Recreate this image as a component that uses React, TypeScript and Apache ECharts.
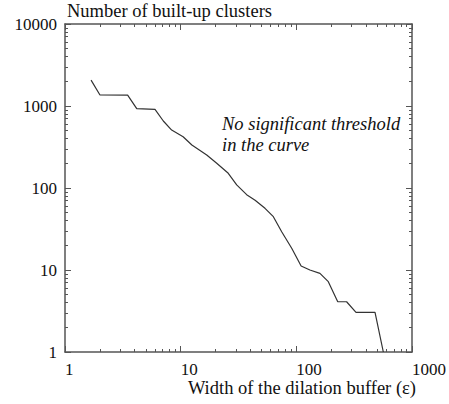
import React, { useEffect, useRef } from "react";
import * as echarts from "echarts";

const bufferWidth = [1.68, 2.0, 3.48, 4.17, 6.0, 7.08, 8.36, 10.5, 12.5, 16.8, 20.5, 25.8, 30.5, 37.2, 44, 53.6, 63.3, 74.7, 91.2, 110, 131, 160, 189, 228, 272, 328, 479, 565];
const clusterCount = [2070, 1370, 1360, 927, 912, 656, 509, 422, 334, 252, 200, 151, 109, 83, 71, 56.5, 44.7, 29.3, 18.4, 11.2, 10, 9.1, 7.2, 4.1, 4.1, 3.05, 3.05, 1];
const xTicks = [1, 10, 100, 1000];
const yTicks = [1, 10, 100, 1000, 10000];

const FONT = "Liberation Serif";
const AXIS_COLOR = "#555";

export default function App() {
  const ref = useRef<HTMLDivElement>(null);
  useEffect(() => {
    if (!ref.current) return;
    const chart = echarts.init(ref.current, undefined, { renderer: "svg" });
    const baseAxis = (extra: any) => ({
      type: "log",
      logBase: 10,
      axisLine: { show: true, lineStyle: { color: AXIS_COLOR, width: 1.5 } },
      axisTick: { show: true, inside: true, length: 6, lineStyle: { color: AXIS_COLOR, width: 1 } },
      minorTick: { show: true, splitNumber: 9, length: 3, lineStyle: { color: AXIS_COLOR, width: 1 } },
      splitLine: { show: false },
      minorSplitLine: { show: false },
      ...extra,
    });
    const labelStyle = {
      show: true,
      color: "#111",
      fontFamily: FONT,
      fontSize: 17,
      lineHeight: 16,
      formatter: (v: number) => String(Math.round(v)),
    };
    chart.setOption({
      animation: false,
      textStyle: { fontFamily: FONT },
      grid: { left: 65, right: 37, top: 24, bottom: 52, containLabel: false },
      xAxis: [
        baseAxis({
          min: xTicks[0],
          max: xTicks[xTicks.length - 1],
          position: "bottom",
          axisLabel: { ...labelStyle, margin: 9, align: "left" },
        }),
        baseAxis({
          min: xTicks[0],
          max: xTicks[xTicks.length - 1],
          position: "top",
          axisLabel: { show: false },
        }),
      ],
      yAxis: [
        baseAxis({
          min: yTicks[0],
          max: yTicks[yTicks.length - 1],
          position: "left",
          axisLabel: { ...labelStyle, margin: 8 },
        }),
        baseAxis({
          min: yTicks[0],
          max: yTicks[yTicks.length - 1],
          position: "right",
          axisLabel: { show: false },
        }),
      ],
      series: [
        {
          type: "line",
          data: bufferWidth.map((x, i) => [x, clusterCount[i]]),
          showSymbol: false,
          symbol: "none",
          lineStyle: { color: "#333", width: 1.2 },
          xAxisIndex: 0,
          yAxisIndex: 0,
          clip: true,
        },
      ],
      graphic: [
        {
          type: "text",
          left: 67,
          top: 1,
          style: { text: "Number of built-up clusters", fontFamily: FONT, fontSize: 18.5, fill: "#111" },
        },
        {
          type: "text",
          right: 33,
          top: 378,
          style: { text: "Width of the dilation buffer (ε)", fontFamily: FONT, fontSize: 18.5, fill: "#111" },
        },
        {
          type: "text",
          left: 222,
          top: 113,
          style: {
            text: "No significant threshold\nin the curve",
            fontFamily: FONT,
            fontStyle: "italic",
            fontSize: 18.5,
            lineHeight: 21,
            fill: "#111",
          },
        },
      ],
    });
    return () => chart.dispose();
  }, []);
  return <div ref={ref} style={{ width: 449, height: 404, position: "absolute", left: 0, top: 0 }} />;
}
